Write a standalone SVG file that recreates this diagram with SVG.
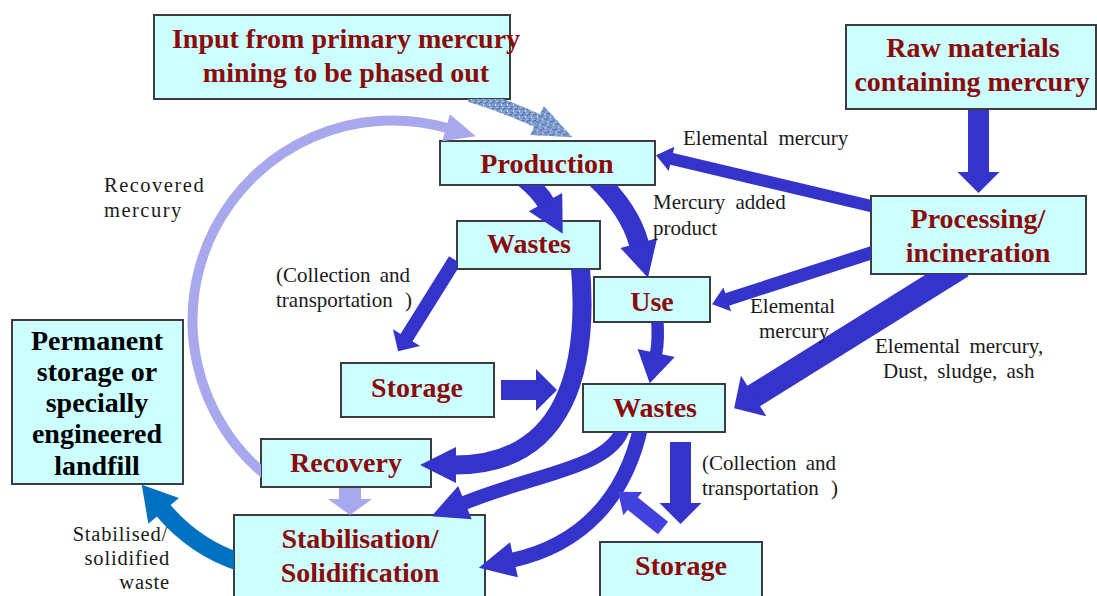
<svg xmlns="http://www.w3.org/2000/svg" width="1097" height="596" viewBox="0 0 1097 596">
<style>
.box{fill:#CCFFFF;stroke:#3c3c3c;stroke-width:2}
.t{font-family:"Liberation Serif","Times New Roman",serif;font-weight:bold;font-size:28px;fill:#8B0A0A;text-anchor:middle}
.k{fill:#000}
.l{font-family:"Liberation Serif","Times New Roman",serif;font-size:21px;fill:#1a1a1a}
.c{fill:none;stroke:#3434CB}
.hb{fill:#3434CB}
.c2{fill:none;stroke:#4141DE}
.h2{fill:#4141DE}
.cp{fill:none;stroke:#A8A8EC}
.hp{fill:#A8A8EC}
.cb{fill:none;stroke:#0070C0}
.hbb{fill:#0070C0}
.ct{fill:none;stroke:url(#tex)}
.ht{fill:url(#tex)}
</style>
<defs>
<pattern id="tex" patternUnits="userSpaceOnUse" width="6" height="6">
<rect width="6" height="6" fill="#7f9ccf"/>
<rect x="0" y="0" width="2" height="1" fill="#4a68a8"/>
<rect x="3" y="2" width="1" height="2" fill="#c9d6ee"/>
<rect x="1" y="4" width="2" height="1" fill="#5674b4"/>
<rect x="4" y="5" width="2" height="1" fill="#a9bde3"/>
<rect x="5" y="1" width="1" height="1" fill="#3d5a9c"/>
</pattern>
<marker id="m1" markerUnits="userSpaceOnUse" orient="auto" overflow="visible" markerWidth="1" markerHeight="1"><path class="hb" d="M-1,-21L20,0L-1,21Z"/></marker>
<marker id="m2" markerUnits="userSpaceOnUse" orient="auto" overflow="visible" markerWidth="1" markerHeight="1"><path class="hb" d="M-1,-12.5L15,0L-1,12.5Z"/></marker>
<marker id="m4" markerUnits="userSpaceOnUse" orient="auto" overflow="visible" markerWidth="1" markerHeight="1"><path class="hb" d="M-1,-24L22,0L-1,24Z"/></marker>
<marker id="m5" markerUnits="userSpaceOnUse" orient="auto" overflow="visible" markerWidth="1" markerHeight="1"><path class="hb" d="M-1,-19L35,0L-1,19Z"/></marker>
<marker id="m7" markerUnits="userSpaceOnUse" orient="auto" overflow="visible" markerWidth="1" markerHeight="1"><path class="hb" d="M-1,-19L30,0L-1,19Z"/></marker>
<marker id="m8" markerUnits="userSpaceOnUse" orient="auto" overflow="visible" markerWidth="1" markerHeight="1"><path class="hb" d="M-1,-16L15,0L-1,16Z"/></marker>
<marker id="mZ" markerUnits="userSpaceOnUse" orient="auto" overflow="visible" markerWidth="1" markerHeight="1"><path class="hb" d="M-1,-18L35,0L-1,18Z"/></marker>
<marker id="m14" markerUnits="userSpaceOnUse" orient="auto" overflow="visible" markerWidth="1" markerHeight="1"><path class="h2" d="M-1,-15L18,0L-1,15Z"/></marker>
<marker id="mR" markerUnits="userSpaceOnUse" orient="auto" overflow="visible" markerWidth="1" markerHeight="1"><path class="hp" d="M-1,-14L30,0L-1,14Z"/></marker>
<marker id="mR2" markerUnits="userSpaceOnUse" orient="auto" overflow="visible" markerWidth="1" markerHeight="1"><path class="hp" d="M-1,-22L15,0L-1,22Z"/></marker>
<marker id="mP" markerUnits="userSpaceOnUse" orient="auto" overflow="visible" markerWidth="1" markerHeight="1"><path class="hbb" d="M-1,-20L33,0L-1,20Z"/></marker>
<marker id="mT" markerUnits="userSpaceOnUse" orient="auto" overflow="visible" markerWidth="1" markerHeight="1"><path class="ht" d="M-1,-16L38,0L-1,16Z"/></marker>
<clipPath id="cProd"><path clip-rule="evenodd" d="M0,0H1097V596H0Z M440,141H655V185H440Z"/></clipPath>
<clipPath id="cProc"><path clip-rule="evenodd" d="M0,0H1097V596H0Z M871,196H1086V274H871Z"/></clipPath>
<clipPath id="cWU"><path clip-rule="evenodd" d="M0,0H1097V596H0Z M457,221H600V269H457Z"/></clipPath>
<clipPath id="cWL"><path clip-rule="evenodd" d="M0,0H1097V596H0Z M583,384H725V432H583Z"/></clipPath>
<clipPath id="cUse"><path clip-rule="evenodd" d="M0,0H1097V596H0Z M594,277H710V322H594Z"/></clipPath>
<clipPath id="cStab"><path clip-rule="evenodd" d="M0,0H1097V596H0Z M234,515H485V605H234Z"/></clipPath>
<clipPath id="cIn"><path clip-rule="evenodd" d="M0,0H1097V596H0Z M154,15H510V99H154Z"/></clipPath>
<clipPath id="cRec"><path clip-rule="evenodd" d="M0,0H1097V596H0Z M261,439H431V487H261Z"/></clipPath>
</defs>

<g id="nodes">
<g id="input"><rect class="box" x="154" y="15" width="356" height="84"/><text class="t" x="346" y="48">Input from primary mercury</text><text class="t" x="346" y="82">mining to be phased out</text></g>
<g id="raw"><rect class="box" x="846" y="25" width="250" height="84"/><text class="t" x="973" y="57">Raw materials</text><text class="t" x="972" y="91">containing mercury</text></g>
<g id="production"><rect class="box" x="440" y="141" width="215" height="44"/><text class="t" x="547" y="173">Production</text></g>
<g id="processing"><rect class="box" x="871" y="196" width="215" height="78"/><text class="t" x="978" y="228">Processing/</text><text class="t" x="978" y="262">incineration</text></g>
<g id="wastes1"><rect class="box" x="457" y="221" width="143" height="48"/><text class="t" x="529" y="253">Wastes</text></g>
<g id="use"><rect class="box" x="594" y="277" width="116" height="45"/><text class="t" x="652" y="311">Use</text></g>
<g id="storage1"><rect class="box" x="341" y="363" width="153" height="54"/><text class="t" x="417" y="397">Storage</text></g>
<g id="wastes2"><rect class="box" x="583" y="384" width="142" height="48"/><text class="t" x="655" y="417">Wastes</text></g>
<g id="permanent"><rect class="box" x="12" y="320" width="171" height="164"/><text class="t k" x="97" y="350">Permanent</text><text class="t k" x="97" y="381">storage or</text><text class="t k" x="97" y="412">specially</text><text class="t k" x="97" y="443">engineered</text><text class="t k" x="97" y="475">landfill</text></g>
<g id="recovery"><rect class="box" x="261" y="439" width="170" height="48"/><text class="t" x="346" y="472">Recovery</text></g>
<g id="stabilisation"><rect class="box" x="234" y="515" width="251" height="90"/><text class="t" x="360" y="548">Stabilisation/</text><text class="t" x="360" y="582">Solidification</text></g>
<g id="storage2"><rect class="box" x="600" y="542" width="162" height="60"/><text class="t" x="681" y="575">Storage</text></g>
</g>

<g id="connectors">
<path class="ct" stroke-width="14" clip-path="url(#cIn)" marker-end="url(#mT)" d="M470,95 Q506,106 538,121"/>
<path class="cp" stroke-width="10" clip-path="url(#cRec)" marker-end="url(#mR)" d="M268.8,477.6 A200,200 0 0 1 447,128"/>
<path class="c" stroke-width="21" marker-end="url(#m1)" d="M978.5,110 L978.5,173"/>
<path class="c" stroke-width="12" clip-path="url(#cProc)" marker-end="url(#m2)" d="M878.8,207.8 L670.6,158.7"/>
<path class="c" stroke-width="13" clip-path="url(#cProc)" marker-end="url(#m2)" d="M878.6,250.5 L726.3,299.7"/>
<path class="c" stroke-width="24" clip-path="url(#cProc)" marker-end="url(#m4)" d="M962.2,266 L752.8,396.5"/>
<path class="c" stroke-width="18" clip-path="url(#cProd)" marker-end="url(#m5)" d="M522,177 Q540,192 546,203"/>
<path class="c" stroke-width="20" clip-path="url(#cProd)" marker-end="url(#m5)" d="M596,178 Q630,210 639,244"/>
<path class="c" stroke-width="12.5" clip-path="url(#cUse)" marker-end="url(#m7)" d="M657,316 Q659,340 656,354"/>
<path class="c" stroke-width="14" clip-path="url(#cWU)" marker-end="url(#m8)" d="M455,260 L406,338.5"/>
<path class="c" stroke-width="20" marker-end="url(#m1)" d="M501,390 L537,390"/>
<path class="c" stroke-width="19" clip-path="url(#cWU)" marker-end="url(#mZ)" d="M580,262 C590,370 565,465 455,465"/>
<path class="c" stroke-width="14" clip-path="url(#cWL)" marker-end="url(#mZ)" d="M624,426 C612,468 540,472 464,503"/>
<path class="c" stroke-width="15" clip-path="url(#cWL)" marker-end="url(#mZ)" d="M641,426 C625,500 580,545 513,560"/>
<path class="c" stroke-width="21" marker-end="url(#m1)" d="M680.5,442 L680.5,504"/>
<path class="c2" stroke-width="16" marker-end="url(#m14)" d="M663,528 L632,503"/>
<path class="cp" stroke-width="22" marker-end="url(#mR2)" d="M350,488 L350,500"/>
<path class="cb" stroke-width="18" clip-path="url(#cStab)" marker-end="url(#mP)" d="M242,563 Q195,548 163,510"/>
</g>

<g id="labels">
<text class="l" x="683" y="145" word-spacing="5">Elemental mercury</text>
<text class="l" x="653" y="209" word-spacing="5">Mercury added</text>
<text class="l" x="653" y="235">product</text>
<text class="l" x="750" y="313">Elemental</text>
<text class="l" x="759" y="338">mercury</text>
<text class="l" x="875" y="353" word-spacing="4">Elemental mercury,</text>
<text class="l" x="883" y="378" word-spacing="4">Dust, sludge, ash</text>
<text class="l" x="104" y="192" style="font-size:20.5px" letter-spacing="1.5">Recovered</text>
<text class="l" x="104" y="217" style="font-size:20.5px" letter-spacing="1.5">mercury</text>
<text class="l" x="276" y="282" word-spacing="4">(Collection and</text>
<text class="l" x="276" y="307" word-spacing="7">transportation )</text>
<text class="l" x="702" y="470" word-spacing="4">(Collection and</text>
<text class="l" x="702" y="495" word-spacing="7">transportation )</text>
<text class="l" x="168" y="541" text-anchor="end" style="font-size:20.5px" letter-spacing="0.8">Stabilised/</text>
<text class="l" x="170" y="565" text-anchor="end" style="font-size:20.5px" letter-spacing="0.8">solidified</text>
<text class="l" x="170" y="589" text-anchor="end" style="font-size:20.5px" letter-spacing="0.8">waste</text>
</g>
</svg>
